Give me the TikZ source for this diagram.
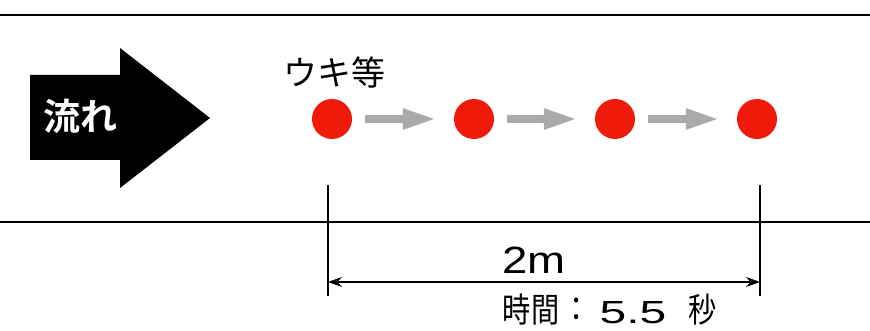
\documentclass[tikz,border=0pt]{standalone}
\usepackage{fontspec}
\setmainfont{Noto Sans CJK JP}
\newfontfamily\jpbold{Noto Sans CJK JP Bold}
\newfontfamily\latinsans{Liberation Sans}
\usetikzlibrary{arrows.meta}
\definecolor{dotred}{HTML}{F01A0A}
\definecolor{flowgray}{HTML}{AAAAAA}
\tikzset{
  dot/.style={circle, fill=dotred, minimum size=40pt, inner sep=0pt},
  flowarrow/.style={draw=flowgray, line width=8pt, -{Triangle[length=34pt,width=19pt]}, shorten <=13pt, shorten >=17pt},
  bankline/.style={line width=1.6pt},
  dimline/.style={line width=1.2pt},
  lbl/.style={inner sep=0pt},
  cjklbl/.style={lbl, font=\fontsize{34}{34}\selectfont, xscale=0.83, transform shape},
  numlbl/.style={lbl, anchor=base, font=\latinsans\fontsize{32}{32}\selectfont, transform shape}
}
\begin{document}
\begin{tikzpicture}[x=1pt,y=-1pt]
\useasboundingbox (0,0) rectangle (870,331);
% banks
\coordinate (tl) at (0,15); \coordinate (tr) at (870,15);
\coordinate (bl) at (0,222); \coordinate (br) at (870,222);
\draw[bankline] (tl) -- (tr);
\draw[bankline] (bl) -- (br);
% big flow arrow
\fill (30,75) -- (120,75) -- (120,48) -- (210,118) -- (120,188) -- (120,160) -- (30,160) -- cycle;
\node[lbl, text=white, font=\jpbold\fontsize{37}{37}\selectfont] (flow) at (80,116) {流れ};
% floats
\node[lbl, font=\fontsize{34}{34}\selectfont] (uki) at (334,72) {ウキ等};
\node[dot] (d1) at (332,119) {};
\node[dot] (d2) at (474,119) {};
\node[dot] (d3) at (615,119) {};
\node[dot] (d4) at (757,119) {};
\draw[flowarrow] (d1) -- (d2);
\draw[flowarrow] (d2) -- (d3);
\draw[flowarrow] (d3) -- (d4);
% dimension
\coordinate (v1t) at (328,185); \coordinate (v1b) at (328,296);
\coordinate (v2t) at (760,185); \coordinate (v2b) at (760,296);
\draw[dimline] (v1t) -- (v1b);
\draw[dimline] (v2t) -- (v2b);
\coordinate (a1) at (328,282); \coordinate (a2) at (760,282);
\draw[dimline, {Stealth[length=14pt,width=10pt]}-{Stealth[length=14pt,width=10pt]}] (a1) -- (a2);
\node[numlbl, font=\latinsans\fontsize{38}{38}\selectfont, xscale=1.2] (dist) at (534,273) {2m};
% time label
\node[cjklbl] (time1) at (531,310) {時間};
\node[cjklbl] (time2) at (577,310) {：};
\node[numlbl, xscale=1.5] (time3) at (633,323) {5.5};
\node[cjklbl] (time4) at (703,310) {秒};
\end{tikzpicture}
\end{document}
